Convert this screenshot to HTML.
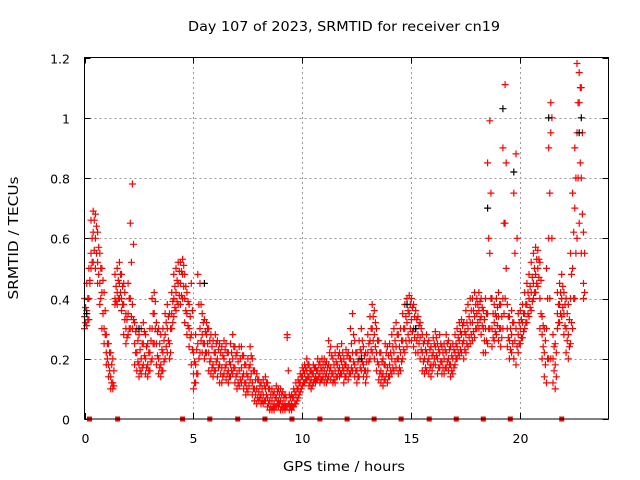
<!DOCTYPE html>
<html><head><meta charset="utf-8">
<style>
html,body{margin:0;padding:0;background:#fff;}
svg{display:block;font-family:"DejaVu Sans","Liberation Sans",sans-serif;}
</style></head>
<body>
<svg id="chart" width="640" height="480" viewBox="0 0 640 480" xmlns="http://www.w3.org/2000/svg">
<text x="188" y="31" font-size="13" textLength="312" lengthAdjust="spacingAndGlyphs" fill="#000">Day 107 of 2023, SRMTID for receiver cn19</text>
<text x="0" y="0" font-size="13" text-anchor="middle" textLength="123" lengthAdjust="spacingAndGlyphs" fill="#000" transform="translate(18,238) rotate(-90)">SRMTID / TECUs</text>
<text x="344" y="471" font-size="13" text-anchor="middle" textLength="122" lengthAdjust="spacingAndGlyphs" fill="#000">GPS time / hours</text>
<g id="grid"></g>
<g id="ticks"></g>
<g id="marks"></g>
<rect x="84.5" y="57.5" width="524" height="361.5" fill="none" stroke="#000" stroke-width="1"/>
</svg>
<script>
const xTicks=[0,5,10,15,20];
const yTicks=[0,0.2,0.4,0.6,0.8,1,1.2];
const yTickLabels=["0","0.2","0.4","0.6","0.8","1","1.2"];
const seriesMid=[.34,.36,.40,.55,.62,.60,.52,.45,.42,.30,
.22,.18,.14,.12,.40,.42,.45,.40,.38,.30,
.35,.40,.38,.25,.22,.18,.20,.25,.20,.18,
.22,.30,.35,.25,.20,.18,.22,.28,.30,.25,
.35,.40,.42,.45,.45,.48,.40,.35,.30,.28,
.15,.18,.25,.30,.28,.25,.28,.22,.20,.18,
.22,.20,.18,.17,.20,.18,.16,.18,.20,.17,
.15,.16,.17,.15,.12,.14,.18,.12,.10,.10,
.09,.08,.08,.10,.07,.06,.06,.05,.07,.06,
.06,.05,.05,.27,.05,.05,.07,.08,.10,.12,
.14,.15,.16,.14,.13,.15,.14,.16,.15,.16,
.16,.15,.18,.17,.15,.16,.18,.17,.19,.16,
.18,.17,.20,.22,.18,.16,.20,.22,.18,.16,
.22,.26,.30,.28,.22,.18,.16,.15,.18,.17,
.18,.20,.22,.24,.20,.22,.26,.30,.32,.35,
.33,.30,.30,.28,.27,.22,.20,.22,.20,.18,
.22,.24,.20,.22,.19,.20,.22,.20,.18,.20,
.22,.24,.26,.28,.26,.28,.30,.32,.32,.34,
.35,.36,.34,.30,.30,.35,.55,.30,.32,.34,
.34,.30,.40,.65,.30,.26,.28,.32,.30,.28,
.30,.32,.35,.38,.40,.42,.45,.48,.50,.40,
.28,.22,.30,.60,.95,.20,.18,.35,.38,.40,
.35,.30,.28,.40,.50,.70,.95,1.05,.80,.45];
const seriesHigh=[.40,.45,.50,.66,.69,.68,.62,.55,.50,.42,
.28,.25,.22,.20,.48,.50,.52,.48,.45,.35,
.45,.65,.78,.32,.30,.28,.30,.32,.28,.25,
.30,.40,.42,.32,.30,.28,.30,.35,.38,.35,
.42,.48,.50,.52,.52,.53,.48,.42,.38,.45,
.22,.28,.48,.45,.35,.33,.32,.30,.28,.26,
.28,.26,.25,.24,.26,.25,.22,.25,.28,.24,
.22,.24,.24,.21,.18,.20,.24,.20,.16,.15,
.13,.12,.13,.14,.12,.10,.10,.09,.11,.10,
.10,.09,.08,.28,.08,.08,.10,.12,.13,.15,
.17,.18,.20,.18,.16,.18,.17,.20,.19,.20,
.20,.19,.26,.24,.20,.22,.24,.22,.25,.20,
.23,.22,.30,.35,.26,.22,.26,.30,.24,.22,
.28,.34,.38,.36,.30,.26,.22,.20,.25,.24,
.25,.28,.30,.32,.28,.30,.35,.38,.40,.41,
.40,.38,.36,.34,.32,.28,.26,.28,.26,.24,
.27,.29,.25,.28,.24,.25,.28,.26,.24,.25,
.28,.30,.32,.33,.32,.36,.38,.40,.40,.42,
.40,.42,.40,.36,.40,.85,.99,.40,.38,.40,
.42,.38,.90,1.11,.38,.34,.36,.75,.88,.35,
.36,.38,.42,.45,.48,.52,.55,.57,.56,.52,
.34,.30,.50,.90,1.05,.28,.25,.42,.45,.48,
.42,.40,.38,.55,.75,.90,1.18,1.15,1.10,.62];
const seriesLow=[.30,.31,.33,.50,.52,.50,.45,.38,.30,.25,
.18,.14,.10,.10,.38,.38,.40,.36,.28,.25,
.28,.30,.30,.18,.16,.14,.15,.18,.15,.14,
.16,.20,.25,.18,.15,.14,.16,.20,.22,.20,
.30,.34,.36,.38,.38,.40,.32,.28,.24,.18,
.10,.12,.15,.22,.22,.20,.22,.16,.15,.14,
.16,.14,.12,.12,.15,.13,.12,.14,.15,.12,
.10,.11,.12,.10,.08,.09,.13,.08,.06,.05,
.06,.05,.05,.06,.04,.03,.03,.03,.04,.04,
.03,.03,.03,.04,.03,.03,.04,.05,.07,.09,
.11,.12,.13,.11,.10,.12,.12,.13,.12,.13,
.12,.12,.14,.13,.12,.12,.14,.14,.15,.12,
.14,.13,.15,.16,.14,.12,.14,.16,.14,.12,
.16,.20,.22,.20,.16,.13,.12,.11,.13,.12,
.14,.15,.16,.17,.15,.16,.20,.22,.24,.26,
.26,.24,.22,.22,.20,.16,.15,.16,.15,.14,
.18,.18,.15,.17,.15,.15,.17,.16,.14,.15,
.18,.20,.21,.22,.20,.22,.24,.25,.26,.27,
.30,.30,.28,.22,.22,.25,.30,.24,.26,.28,
.26,.24,.30,.40,.24,.20,.22,.20,.18,.22,
.25,.27,.30,.32,.34,.36,.40,.42,.44,.30,
.20,.14,.12,.20,.20,.12,.10,.30,.32,.34,
.28,.22,.20,.25,.30,.40,.60,.65,.55,.40];
const seriesHalfLow=[.32,.33,.45,.52,.56,.55,.48,.40,.35,.28,
.20,.16,.12,.11,.39,.40,.42,.38,.33,.27,
.30,.34,.33,.22,.19,.16,.17,.21,.17,.16,
.19,.25,.30,.21,.17,.16,.19,.24,.26,.22,
.32,.37,.39,.41,.41,.44,.36,.31,.27,.23,
.12,.15,.20,.26,.25,.22,.25,.19,.17,.16,
.19,.17,.15,.14,.17,.15,.14,.16,.17,.14,
.12,.13,.14,.12,.10,.11,.15,.10,.08,.07,
.07,.06,.06,.08,.05,.04,.04,.04,.05,.05,
.04,.04,.04,.05,.04,.04,.05,.06,.08,.10,
.12,.13,.14,.12,.11,.13,.13,.14,.13,.14,
.14,.13,.16,.15,.13,.14,.16,.15,.17,.14,
.16,.15,.17,.19,.16,.14,.17,.19,.16,.14,
.19,.23,.26,.24,.19,.15,.14,.13,.15,.14,
.16,.17,.19,.20,.17,.19,.23,.26,.28,.30,
.29,.27,.26,.25,.23,.19,.17,.19,.17,.16,
.20,.21,.17,.19,.17,.17,.19,.18,.16,.17,
.20,.22,.23,.25,.23,.25,.27,.28,.29,.30,
.32,.33,.31,.26,.26,.30,.40,.27,.29,.31,
.30,.27,.35,.50,.27,.23,.25,.26,.24,.25,
.27,.29,.32,.35,.37,.39,.42,.45,.47,.35,
.24,.18,.20,.40,.60,.16,.14,.32,.35,.37,
.31,.26,.24,.32,.40,.55,.80,.85,.68,.42];
const seriesHalfHigh=[.37,.40,.46,.60,.66,.64,.57,.50,.46,.36,
.25,.22,.18,.16,.44,.46,.48,.44,.42,.33,
.40,.52,.58,.29,.26,.23,.25,.29,.24,.22,
.26,.35,.39,.29,.25,.23,.26,.32,.34,.30,
.39,.44,.46,.49,.49,.51,.44,.39,.34,.36,
.19,.23,.38,.38,.32,.29,.30,.26,.24,.22,
.25,.23,.22,.21,.23,.22,.19,.22,.24,.21,
.19,.20,.21,.18,.15,.17,.21,.16,.13,.13,
.11,.10,.11,.12,.10,.08,.08,.07,.09,.08,
.08,.07,.07,.16,.07,.07,.09,.10,.12,.14,
.16,.17,.18,.16,.15,.17,.16,.18,.17,.18,
.18,.17,.22,.21,.18,.19,.21,.20,.22,.18,
.21,.20,.25,.28,.22,.19,.23,.26,.21,.19,
.25,.30,.34,.32,.26,.22,.19,.18,.22,.21,
.22,.24,.26,.28,.24,.26,.30,.34,.36,.38,
.37,.34,.33,.31,.30,.25,.23,.25,.23,.21,
.25,.27,.23,.25,.22,.23,.25,.23,.21,.23,
.25,.27,.29,.31,.29,.32,.34,.36,.36,.38,
.38,.39,.37,.33,.35,.60,.75,.35,.35,.37,
.38,.34,.65,.85,.34,.30,.32,.55,.60,.32,
.33,.35,.38,.42,.44,.47,.50,.53,.53,.46,
.31,.26,.40,.75,1.00,.24,.22,.38,.42,.44,
.38,.35,.33,.48,.62,.80,1.05,1.10,.95,.55];
const blackTimes=[0.1,2.5,5.5,12.7,14.8,15.2,18.5,19.2,19.7,21.3,22.7,22.8];
const blackValues=[.35,.30,.45,.20,.38,.30,.70,1.03,.82,1.00,.95,1.00];
const zeroTimes=[0.23,1.52,4.5,5.75,7.03,8.28,9.52,10.8,12.05,13.29,14.53,15.82,17.06,18.3,19.54,21.9];
const TIME_STEP=0.1;
const HALF_OFFSET=0.05;

const X0=84.5,X1=607.5,Y0=419,Y1=57.5,XMAX=24,YMAX=1.2;
function sx(t){return X0+(X1-X0)*t/XMAX;}
function sy(v){return Y0-(Y0-Y1)*v/YMAX;}
const NS="http://www.w3.org/2000/svg";
const grid=document.getElementById('grid'),ticks=document.getElementById('ticks'),marks=document.getElementById('marks');
function mk(tag,attrs,parent){const e=document.createElementNS(NS,tag);for(const k in attrs)e.setAttribute(k,attrs[k]);parent.appendChild(e);return e;}

xTicks.forEach(t=>{
  const x=Math.round(sx(t))+0.5;
  if(t>0){const g=mk('line',{x1:x,y1:Y0,x2:x,y2:Y1,stroke:'#999','stroke-dasharray':'2,3'},grid);
  
  }
  const a=mk('path',{d:`M${x},${Y0}v-6M${x},${Y1}v6`,stroke:'#000'},ticks);
  
  
  const l=mk('text',{x:x,y:443,'font-size':12.5,'text-anchor':'middle'},ticks);l.textContent=String(t);
  
  
});
yTicks.forEach((v,i)=>{
  const y=Math.round(sy(v))+0.5;
  if(v>0&&v<YMAX){const g=mk('line',{x1:X0,y1:y,x2:608.5,y2:y,stroke:'#999','stroke-dasharray':'2,3'},grid);
  
  }
  const a=mk('path',{d:`M${X0},${y}h6M608.5,${y}h-6`,stroke:'#000'},ticks);
  
  
  const l=mk('text',{x:70,y:y+5,'font-size':12.5,'text-anchor':'end'},ticks);l.textContent=yTickLabels[i];
  
  
});
function plus(t,v,color,name){
  const x=sx(t),y=sy(v);
  const p=mk('path',{d:`M${(x-3.5).toFixed(1)},${y.toFixed(1)}h7M${x.toFixed(1)},${(y-3.5).toFixed(1)}v7`,stroke:color,'stroke-width':1.2,fill:'none'},marks);
  
  
}
[seriesLow,seriesMid,seriesHigh].forEach(arr=>{
  arr.forEach((v,i)=>plus(i*TIME_STEP,v,'#f00','srmtid-point'));
});
[seriesHalfLow,seriesHalfHigh].forEach(arr=>{
  arr.forEach((v,i)=>plus(i*TIME_STEP+HALF_OFFSET,v,'#f00','srmtid-point'));
});
blackTimes.forEach((t,i)=>plus(t,blackValues[i],'#000','srmtid-point-alt'));
zeroTimes.forEach(t=>{
  const r=mk('rect',{x:sx(t)-2.5,y:Y0-2.5,width:5,height:5,fill:'#f00'},marks);
  
  
});
</script>
</body></html>
